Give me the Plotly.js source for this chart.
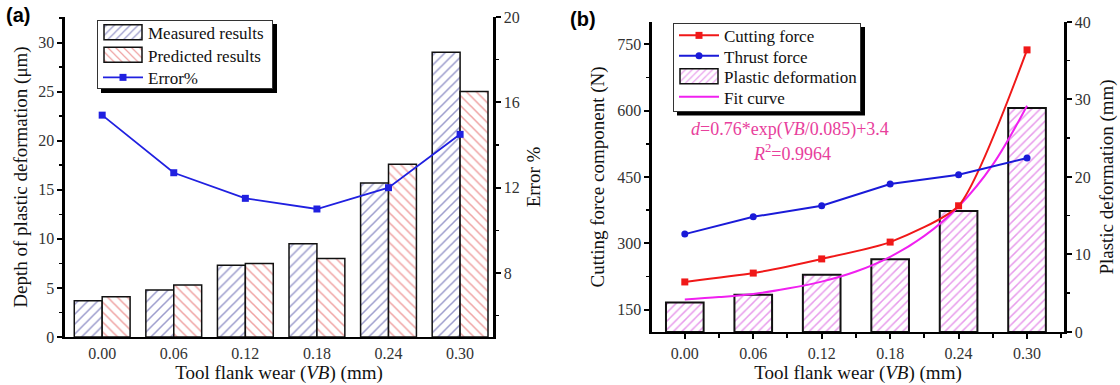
<!DOCTYPE html>
<html>
<head>
<meta charset="utf-8">
<script src="https://cdn.plot.ly/plotly-3.0.1.min.js"></script>
<style>html,body{margin:0;padding:0;background:#fff;}#chart{width:1120px;height:385px;}</style>
</head>
<body>
<div id="chart"></div>
<script>
// ---- data ----
var wear = [0.00, 0.06, 0.12, 0.18, 0.24, 0.30];
var measured = [3.7, 4.8, 7.3, 9.5, 15.7, 29.0];
var predicted = [4.1, 5.3, 7.5, 8.0, 17.6, 25.0];
var errorPct = [15.4, 12.7, 11.5, 11.0, 12.0, 14.5];

var cuttingForce = [213, 233, 265, 303, 385, 737];
var thrustForce = [321, 360, 385, 434, 455, 493];
var plasticDef = [3.8, 4.8, 7.4, 9.4, 15.6, 28.9];
var fitWear = [0.00, 0.03, 0.06, 0.09, 0.12, 0.15, 0.18, 0.21, 0.24, 0.27, 0.30];
var fitCurve = [4.2, 4.5, 4.9, 5.6, 6.5, 7.8, 9.7, 12.4, 16.2, 21.6, 29.2];

var serif = "Liberation Serif, Times New Roman, serif";
var tickFont = {family: serif, size: 16, color: '#333'};
var titleFont = {family: serif, size: 19, color: '#111'};

function axisBase(extra) {
  var a = {showline: true, linewidth: 2.5, linecolor: '#000', showgrid: false, zeroline: false,
           tickfont: tickFont, ticks: 'outside', ticklen: 5, tickwidth: 2, tickcolor: '#000'};
  for (var k in extra) a[k] = extra[k];
  return a;
}

var traces = [
  {type: 'bar', x: wear, y: measured, name: 'Measured results', xaxis: 'x', yaxis: 'y', legend: 'legend',
   marker: {color: 'white', line: {color: '#111', width: 1.5},
            pattern: {shape: '/', fgcolor: '#3a3a9a', bgcolor: 'white', size: 7, solidity: 0.22, fillmode: 'overlay'}}},
  {type: 'bar', x: wear, y: predicted, name: 'Predicted results', xaxis: 'x', yaxis: 'y', legend: 'legend',
   marker: {color: 'white', line: {color: '#111', width: 1.5},
            pattern: {shape: '\\', fgcolor: '#e04848', bgcolor: 'white', size: 7, solidity: 0.22, fillmode: 'overlay'}}},
  {type: 'scatter', mode: 'lines+markers', x: wear, y: errorPct, name: 'Error%', xaxis: 'x', yaxis: 'y2', legend: 'legend',
   line: {color: '#2020e0', width: 1.8}, marker: {symbol: 'square', size: 7, color: '#2020e0'}},

  {type: 'scatter', mode: 'lines+markers', x: wear, y: cuttingForce, name: 'Cutting force', xaxis: 'x2', yaxis: 'y4', legend: 'legend2',
   line: {color: '#f01818', width: 2, shape: 'spline', smoothing: 0.6}, marker: {symbol: 'square', size: 7, color: '#f01818'}},
  {type: 'scatter', mode: 'lines+markers', x: wear, y: thrustForce, name: 'Thrust force', xaxis: 'x2', yaxis: 'y4', legend: 'legend2',
   line: {color: '#1a1ad8', width: 2}, marker: {symbol: 'circle', size: 7, color: '#1a1ad8'}},
  {type: 'bar', x: wear, y: plasticDef, name: 'Plastic deformation', xaxis: 'x2', yaxis: 'y3', legend: 'legend2', width: 0.033,
   marker: {color: 'white', line: {color: '#111', width: 2},
            pattern: {shape: '/', fgcolor: '#d038d8', bgcolor: 'white', size: 6, solidity: 0.25, fillmode: 'overlay'}}},
  {type: 'scatter', mode: 'lines', x: fitWear, y: fitCurve, name: 'Fit curve', xaxis: 'x2', yaxis: 'y3', legend: 'legend2',
   line: {color: '#f020f0', width: 2, shape: 'spline'}}
];

var yA = [0.1247, 0.9558];
var yB = [0.1377, 0.9429];

// legend boxes (pixels): left, top, width, first-row offset, row step, bottom pad
var legendBox = {
  legend:  {left: 97,  top: 20, width: 176, first: 13, step: 22.5, pad: 11, rows: 3},
  legend2: {left: 673, top: 23, width: 188, first: 13, step: 20.5, pad: 14, rows: 4}
};
function boxHeight(b) { return b.first + (b.rows - 1) * b.step + b.pad; }

function legendBase(b) {
  return {x: b.left / 1120, y: 1 - b.top / 385, xanchor: 'left', yanchor: 'top', bgcolor: 'white',
          bordercolor: '#333', borderwidth: 1, font: {family: serif, size: 17, color: '#111'},
          itemwidth: 40, tracegroupgap: 0, traceorder: 'normal'};
}
function shadowShape(b) {
  var h = boxHeight(b);
  return {type: 'rect', xref: 'paper', yref: 'paper', layer: 'above',
          x0: (b.left + 4) / 1120, x1: (b.left + b.width + 4) / 1120,
          y0: 1 - (b.top + h + 4) / 385, y1: 1 - (b.top + 4) / 385,
          fillcolor: '#000', line: {width: 0}};
}

var layout = {
  width: 1120, height: 385,
  margin: {l: 0, r: 0, t: 0, b: 0},
  paper_bgcolor: 'white', plot_bgcolor: 'rgba(0,0,0,0)',
  barmode: 'group', bargap: 0.22, bargroupgap: 0,
  font: {family: serif, color: '#111'},
  xaxis: axisBase({domain: [0.058, 0.4402], anchor: 'y', range: [-0.0312, 0.3276],
                   tickmode: 'array', tickvals: wear, tickformat: '.2f', ticks: '',
                   title: {text: 'Tool flank wear (<i>VB</i>) (mm)', font: titleFont, standoff: 4}}),
  yaxis: axisBase({domain: yA, anchor: 'x', range: [0, 32.6], dtick: 5, tick0: 0,
                   minor: {dtick: 2.5, tick0: 0, ticks: 'outside', ticklen: 3, tickwidth: 1.5, tickcolor: '#000'},
                   title: {text: 'Depth of plastic deformation (μm)', font: titleFont, standoff: 6}}),
  yaxis2: axisBase({overlaying: 'y', side: 'right', anchor: 'x', range: [5, 20], dtick: 4, tick0: 0,
                   minor: {dtick: 2, tick0: 0, ticks: 'outside', ticklen: 3, tickwidth: 1.5, tickcolor: '#000'},
                   title: {text: 'Error %', font: titleFont, standoff: 8}}),
  xaxis2: axisBase({domain: [0.5821, 0.95], anchor: 'y3', range: [-0.0288, 0.3324],
                   tickmode: 'array', tickvals: wear, tickformat: '.2f',
                   minor: {tick0: 0, dtick: 0.03, ticks: 'outside', ticklen: 4, tickwidth: 2, tickcolor: '#000'},
                   title: {text: 'Tool flank wear (<i>VB</i>) (mm)', font: titleFont, standoff: 4}}),
  yaxis3: axisBase({domain: yB, anchor: 'x2', side: 'right', range: [0, 40], dtick: 10, tick0: 0,
                   minor: {dtick: 5, tick0: 0, ticks: 'outside', ticklen: 3, tickwidth: 1.5, tickcolor: '#000'},
                   title: {text: 'Plastic deformation (mm)', font: titleFont, standoff: 10}}),
  yaxis4: axisBase({overlaying: 'y3', side: 'left', anchor: 'x2', range: [100, 800], dtick: 150, tick0: 0,
                   minor: {dtick: 75, tick0: 0, ticks: 'outside', ticklen: 3, tickwidth: 1.5, tickcolor: '#000'},
                   title: {text: 'Cutting force component (N)', font: titleFont, standoff: 8}}),
  legend: legendBase(legendBox.legend),
  legend2: legendBase(legendBox.legend2),
  shapes: [shadowShape(legendBox.legend), shadowShape(legendBox.legend2)],
  annotations: [
    {text: '<b>(a)</b>', xref: 'paper', yref: 'paper', x: 4/1120, y: 1 - 2/385, xanchor: 'left', yanchor: 'top',
     showarrow: false, font: {family: 'Liberation Sans, Arial, sans-serif', size: 20, color: '#000'}},
    {text: '<b>(b)</b>', xref: 'paper', yref: 'paper', x: 568/1120, y: 1 - 6/385, xanchor: 'left', yanchor: 'top',
     showarrow: false, font: {family: 'Liberation Sans, Arial, sans-serif', size: 20, color: '#000'}},
    {text: '<i>d</i>=0.76*exp(<i>VB</i>/0.085)+3.4', xref: 'paper', yref: 'paper', x: 790/1120, y: 1 - 129/385,
     xanchor: 'center', yanchor: 'middle', showarrow: false, font: {family: serif, size: 18, color: '#e8409c'}},
    {text: '<i>R</i><sup>2</sup>=0.9964', xref: 'paper', yref: 'paper', x: 792/1120, y: 1 - 152/385,
     xanchor: 'center', yanchor: 'middle', showarrow: false, font: {family: serif, size: 18, color: '#e8409c'}}
  ]
};

// Compact legend rows, fix box size, widen the bar swatches and add the drop shadow like the reference.
function styleLegend(gd, cls) {
  var b = legendBox[cls];
  var leg = gd.querySelector('g.' + cls);
  if (!leg) return;
  var bg = leg.querySelector('rect.bg');
  var items = leg.querySelectorAll('g.traces');
  if (!bg || !items.length) return;
  var bgBox = bg.getBoundingClientRect();
  items.forEach(function (it, i) {
    var t = it.getAttribute('transform') || '';
    var m = /translate\(\s*([-\d.]+)[ ,]+([-\d.]+)/.exec(t);
    var x = m ? +m[1] : 0, y = m ? +m[2] : 0;
    var tx = it.querySelector('text');
    var r = tx.getBoundingClientRect();
    var cy = r.top + r.height / 2;
    var want = bgBox.top + b.first + i * b.step;
    it.setAttribute('transform', 'translate(' + x + ',' + (y + want - cy) + ')');
  });
  var h = boxHeight(b) - 1, w = b.width - 1;
  bg.setAttribute('height', h);
  bg.setAttribute('width', w);
  leg.querySelectorAll('.legendpoints path.legendundefined').forEach(function (p) {
    var t = p.getAttribute('transform') || '';
    var m = /translate\(\s*([-\d.]+)/.exec(t);
    var c = m ? +m[1] : 25;
    var x0 = 6 - c, x1 = 44 - c;
    p.setAttribute('d', 'M' + x0 + ',-7.5H' + x1 + 'V7.5H' + x0 + 'Z');
    p.style.strokeWidth = '1.5px';
    p.style.stroke = '#111';
  });
  var sh = document.createElementNS('http://www.w3.org/2000/svg', 'rect');
  var bx = parseFloat(bg.getAttribute('x')) || 0, by = parseFloat(bg.getAttribute('y')) || 0;
  sh.setAttribute('x', bx + 4); sh.setAttribute('y', by + 4);
  sh.setAttribute('width', w); sh.setAttribute('height', h);
  sh.setAttribute('style', 'fill: rgb(0,0,0); fill-opacity: 1; stroke-width: 0;');
  bg.parentNode.insertBefore(sh, bg);
}

Plotly.newPlot('chart', traces, layout, {displayModeBar: false, staticPlot: true}).then(function (gd) {
  styleLegend(gd, 'legend');
  styleLegend(gd, 'legend2');
});
</script>
</body>
</html>
